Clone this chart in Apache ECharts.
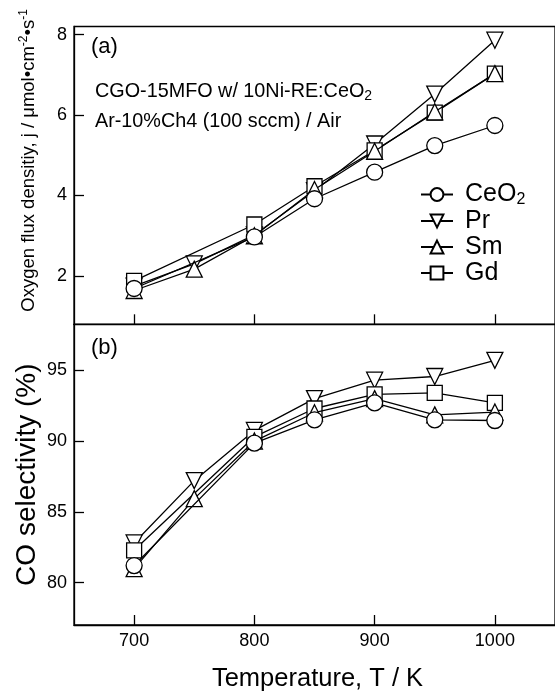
<!DOCTYPE html>
<html><head><meta charset="utf-8">
<script src="https://cdn.jsdelivr.net/npm/echarts@6/dist/echarts.min.js"></script>
<style>html,body{margin:0;padding:0;background:#fff}#c{width:555px;height:693px}</style>
</head><body><div id="c"></div>
<script>
// ---- data ----
const temps = [700, 750, 800, 850, 900, 950, 1000];
const xTicks = [700, 800, 900, 1000];
const fluxTicks = [2, 4, 6, 8];
const selTicks = [80, 85, 90, 95];
const names = ['CeO2', 'Pr', 'Sm', 'Gd'];
// (a) oxygen flux density
const fluxCeO2 = [1.69, null, 2.97, 3.92, 4.58, 5.24, 5.74];
const fluxPr   = [1.75, 2.30, 3.02, 4.12, 5.28, 6.52, 7.86];
const fluxSm   = [1.64, 2.17, 3.00, 4.15, 5.10, 6.08, 7.03];
const fluxGd   = [1.88, null, 3.28, 4.23, 5.12, 6.06, 7.03];
// (b) CO selectivity
const selCeO2 = [81.2, null, 89.85, 91.5, 92.7, 91.5, 91.45];
const selPr   = [82.8, 87.2, 90.75, 93.0, 94.3, 94.56, 95.7];
const selSm   = [80.98, 85.93, 90.0, 92.0, 93.0, 91.85, 92.05];
const selGd   = [82.28, null, 90.3, 92.3, 93.3, 93.4, 92.7];

const FONT = '"Liberation Sans", Arial, Helvetica, sans-serif';
const chart = echarts.init(document.getElementById('c'), null, {renderer: 'canvas'});

function pairs(vals) {
  return temps.map((t, i) => vals[i] == null ? null : [t, vals[i]]).filter(Boolean);
}
const symbolDefs = {
  CeO2: {symbol: 'circle', size: 16, rot: 0},
  Pr:   {symbol: 'triangle', size: 16, rot: 180},
  Sm:   {symbol: 'triangle', size: 16, rot: 0},
  Gd:   {symbol: 'rect', size: 15, rot: 0}
};
function mk(name, vals, gi, z) {
  const s = symbolDefs[name];
  return {
    name, type: 'line', xAxisIndex: gi, yAxisIndex: gi, data: pairs(vals),
    symbol: s.symbol, symbolSize: s.size, symbolRotate: s.rot, showAllSymbol: true,
    lineStyle: {color: '#000', width: 1.3},
    itemStyle: {color: '#fff', borderColor: '#000', borderWidth: 1.3},
    emphasis: {disabled: true}, z: z, animation: false, silent: true
  };
}
const axisBase = {
  axisLine: {show: true, lineStyle: {color: '#000', width: 1.3}},
  splitLine: {show: false}
};
const tickStyle = (vals) => ({inside: true, length: 10, lineStyle: {color: '#000', width: 1.3}, customValues: vals});
const labelStyle = (vals, margin) => ({show: true, customValues: vals, fontSize: 18, color: '#000', fontFamily: FONT, margin: margin, formatter: v => String(v)});
const option = {
  animation: false,
  backgroundColor: '#fff',
  grid: [
    {left: 74, top: 26.5, width: 484, height: 297.8, show: true, borderColor: '#000', borderWidth: 1.3, backgroundColor: 'transparent'},
    {left: 74, top: 324.3, width: 484, height: 304, show: true, borderColor: '#000', borderWidth: 1.3, backgroundColor: 'transparent'}
  ],
  xAxis: [
    Object.assign({}, axisBase, {gridIndex: 0, type: 'value', min: 650, max: 1050,
      axisTick: tickStyle(xTicks), axisLabel: {show: false, customValues: xTicks}}),
    Object.assign({}, axisBase, {gridIndex: 1, type: 'value', min: 650, max: 1050,
      axisTick: tickStyle(xTicks), axisLabel: labelStyle(xTicks, 7),
      name: 'Temperature, T / K', nameLocation: 'middle', nameGap: 41,
      nameTextStyle: {fontSize: 25.5, color: '#000', fontFamily: FONT, padding: [0, 0, 0, 6]}})
  ],
  yAxis: [
    Object.assign({}, axisBase, {gridIndex: 0, type: 'value', min: 0.8, max: 8.2,
      axisTick: tickStyle(fluxTicks), axisLabel: labelStyle(fluxTicks, 7),
      name: 'Oxygen flux densitiy, j / μmol•cm{sup|-2}•s{sup|-1}', nameLocation: 'middle', nameGap: 34,
      nameTextStyle: {fontSize: 18.5, color: '#000', fontFamily: FONT, padding: [0, 0, 0, 30],
        rich: {sup: {fontSize: 12, color: '#000', fontFamily: FONT, padding: [0, 0, 10, 0]}}}}),
    Object.assign({}, axisBase, {gridIndex: 1, type: 'value', min: 77, max: 98.25,
      axisTick: tickStyle(selTicks), axisLabel: labelStyle(selTicks, 7),
      name: 'CO selectivity (%)', nameLocation: 'middle', nameGap: 33, nameMoveOverlap: false,
      nameTextStyle: {fontSize: 28, color: '#000', fontFamily: FONT}})
  ],
  legend: {
    data: names, orient: 'vertical', left: 415, top: 177,
    itemWidth: 32, itemHeight: 16, itemGap: 1,
    selectedMode: false,
    formatter: n => n === 'CeO2' ? 'CeO{sub|2}' : n,
    textStyle: {fontSize: 25, color: '#000', fontFamily: FONT, padding: [0, 0, 0, 7],
      rich: {sub: {fontSize: 16, color: '#000', fontFamily: FONT, padding: [10, 0, 0, 0]}}}
  },
  graphic: [
    {type: 'text', x: 91, y: 47, silent: true, style: {text: '(a)', fontSize: 22, fontFamily: FONT, fill: '#000', verticalAlign: 'middle'}},
    {type: 'text', x: 91, y: 348, silent: true, style: {text: '(b)', fontSize: 22, fontFamily: FONT, fill: '#000', verticalAlign: 'middle'}},
    {type: 'text', x: 95, y: 92, silent: true, style: {text: 'CGO-15MFO w/ 10Ni-RE:CeO{sub|2}', fontSize: 19.8, fontFamily: FONT, fill: '#000', verticalAlign: 'middle',
      rich: {sub: {fontSize: 14, fontFamily: FONT, fill: '#000', padding: [9, 0, 0, 0]}}}},
    {type: 'text', x: 95, y: 122, silent: true, style: {text: 'Ar-10%Ch4 (100 sccm) / Air', fontSize: 19.8, fontFamily: FONT, fill: '#000', verticalAlign: 'middle'}}
  ],
  series: [
    mk('Pr', fluxPr, 0, 2), mk('Gd', fluxGd, 0, 3), mk('Sm', fluxSm, 0, 4), mk('CeO2', fluxCeO2, 0, 5),
    mk('Pr', selPr, 1, 2), mk('Gd', selGd, 1, 3), mk('Sm', selSm, 1, 4), mk('CeO2', selCeO2, 1, 5)
  ]
};
chart.setOption(option);
</script></body></html>
